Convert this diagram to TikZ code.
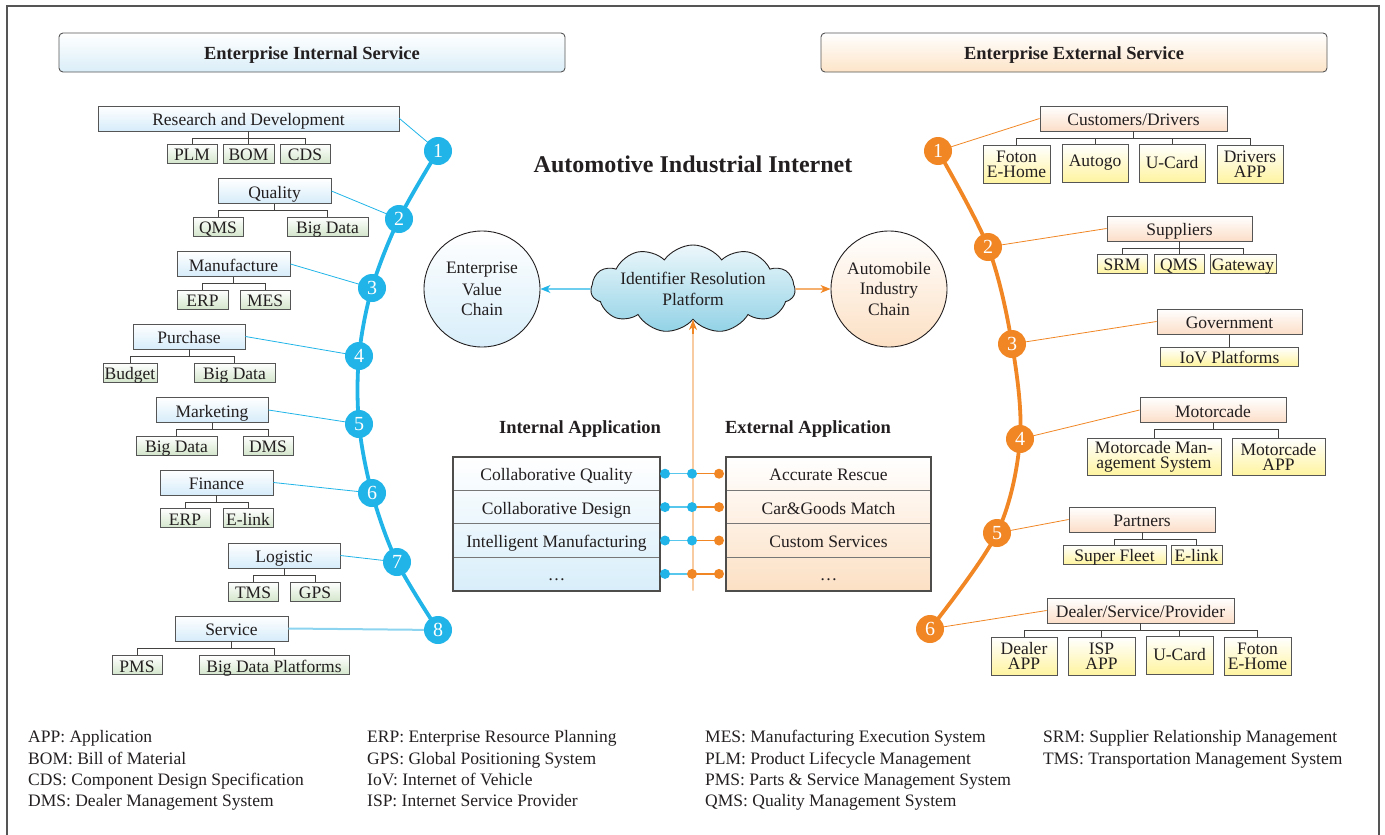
\documentclass[tikz,border=0pt]{standalone}
\usepackage{fontspec}
\setmainfont{Liberation Serif}
\usetikzlibrary{shapes.symbols,arrows.meta,calc}

\definecolor{ibl}{RGB}{32,180,232}
\definecolor{ilbl}{RGB}{140,212,240}
\definecolor{org}{RGB}{240,134,36}
\definecolor{lorg}{RGB}{245,175,110}
\definecolor{txt}{RGB}{35,31,32}
\definecolor{boxline}{RGB}{85,85,85}
\definecolor{lpb}{RGB}{214,236,250}
\definecolor{lcb}{RGB}{212,230,204}
\definecolor{rpb}{RGB}{252,222,200}
\definecolor{rcb}{RGB}{255,244,160}
\definecolor{hlb}{RGB}{218,238,248}
\definecolor{hrb}{RGB}{253,228,200}
\definecolor{cldt}{RGB}{236,247,251}
\definecolor{cldb}{RGB}{146,210,230}
\definecolor{tlb}{RGB}{216,238,250}
\definecolor{trb}{RGB}{252,224,196}

\newcommand\fsbody{\fontsize{17.5}{15}\selectfont}
\newcommand\fsnum{\fontsize{20}{20}\selectfont}
\newcommand\fshead{\fontsize{18.5}{20}\selectfont\bfseries}
\newcommand\fstitle{\fontsize{24}{26}\selectfont\bfseries}
\newcommand\fslegend{\fontsize{17.5}{20}\selectfont}

\tikzset{
  oneline/.style={text height=14pt, text depth=0pt},
  box/.style={draw=boxline, line width=0.9pt, inner sep=0pt, font=\fsbody, text=txt, align=center, oneline},
  lp/.style={box, top color=white, bottom color=lpb, minimum height=25},
  lc/.style={box, top color=white, bottom color=lcb, minimum height=19},
  rp/.style={box, top color=white, bottom color=rpb, minimum height=25},
  rc/.style={box, top color=white, bottom color=rcb, minimum height=19},
  rc2/.style={rc, minimum height=38, text height={}, text depth={}},
  br/.style={to path={(\tikztostart) -- ++(0,6.5) -| (\tikztotarget)}},
  brline/.style={draw=txt!85, line width=0.8pt},
  lnum/.style={circle, fill=ibl, minimum size=28, inner sep=0pt, text=white, font=\fsnum},
  rnum/.style={circle, fill=org, minimum size=28, inner sep=0pt, text=white, font=\fsnum},
  lcon/.style={ibl, line width=0.8pt},
  rcon/.style={org, line width=0.8pt},
  header/.style={draw=boxline, line width=0.9pt, rounded corners=4pt, minimum width=506, minimum height=39, font=\fshead, text=txt, oneline},
  cell/.style={draw=boxline!80, line width=0.9pt, minimum height=33.4, inner sep=0pt, font=\fsbody, text=txt, oneline},
  bdot/.style={circle, fill=ibl, minimum size=10, inner sep=0pt},
  odot/.style={circle, fill=org, minimum size=10, inner sep=0pt},
  legend/.style={anchor=base west, inner sep=0pt, font=\fslegend, text=txt},
  chain/.style={circle, draw=txt, line width=0.9pt, minimum size=116, inner sep=0pt, font=\fsbody, text=txt, align=center},
  tipa/.style={-{Stealth[length=10pt, width=8pt, inset=3pt]}},
}

\begin{document}
\begin{tikzpicture}[x=1pt,y=-1pt]
\useasboundingbox (0,0) rectangle (1385,835);
% outer frame, open below the picture edge
\draw[line width=1.2pt, draw=boxline] (7,900) -- (7,6) -- (1379,6) -- (1379,900);

% ---------- headers and title ----------
\node[header, top color=white, bottom color=hlb] (hint) at (312,52.5) {Enterprise Internal Service};
\node[header, top color=white, bottom color=hrb] (hext) at (1074,52.5) {Enterprise External Service};
\node[font=\fstitle, text=txt] (title) at (693,164) {Automotive Industrial Internet};

% ---------- internal service tree ----------
\node[lp, minimum width=301] (rd)   at (248.5,118.5) {Research and Development};
\node[lp, minimum width=113] (qual) at (274.5,191)   {Quality};
\node[lp, minimum width=113] (manu) at (233.5,264)   {Manufacture};
\node[lp, minimum width=112] (purc) at (189,336.5)   {Purchase};
\node[lp, minimum width=112] (mark) at (212,410)     {Marketing};
\node[lp, minimum width=113] (fina) at (216.5,482.5) {Finance};
\node[lp, minimum width=112] (logi) at (284,555.5)   {Logistic};
\node[lp, minimum width=113] (serv) at (231.5,628.5) {Service};

\node[lc, minimum width=50]  (plm)  at (192,153.5)   {PLM};
\node[lc, minimum width=51]  (bom)  at (248.5,153.5) {BOM};
\node[lc, minimum width=50]  (cds)  at (305,153.5)   {CDS};
\node[lc, minimum width=50]  (qms)  at (218,226.5)   {QMS};
\node[lc, minimum width=81]  (bigq) at (327.5,226.5) {Big Data};
\node[lc, minimum width=51]  (erpa) at (202.5,299.5) {ERP};
\node[lc, minimum width=50]  (mes)  at (265,299.5)   {MES};
\node[lc, minimum width=54]  (budg) at (130,372.5)   {Budget};
\node[lc, minimum width=81]  (bigp) at (234.5,372.5) {Big Data};
\node[lc, minimum width=81]  (bigm) at (176.5,445.5) {Big Data};
\node[lc, minimum width=50]  (dms)  at (268,445.5)   {DMS};
\node[lc, minimum width=50]  (erpb) at (185,518)     {ERP};
\node[lc, minimum width=50]  (elka) at (248,518)     {E-link};
\node[lc, minimum width=50]  (tms)  at (253,591.5)   {TMS};
\node[lc, minimum width=50]  (gps)  at (315,591.5)   {GPS};
\node[lc, minimum width=50]  (pms)  at (137,665)     {PMS};
\node[lc, minimum width=150] (bdp)  at (274,665)     {Big Data Platforms};

\foreach \p/\c in {rd/plm, rd/bom, rd/cds, qual/qms, qual/bigq, manu/erpa, manu/mes,
                   purc/budg, purc/bigp, mark/bigm, mark/dms, fina/erpb, fina/elka,
                   logi/tms, logi/gps, serv/pms, serv/bdp}
  \draw[brline] (\p.south) to[br] (\c.north);

% blue arc of internal services
\coordinate (p1) at (438,151);
\coordinate (p2) at (399,219);
\coordinate (p3) at (372,288);
\coordinate (p4) at (359,356);
\coordinate (p5) at (359,424);
\coordinate (p6) at (372,493);
\coordinate (p7) at (397,562);
\coordinate (p8) at (438,630);
\draw[ibl, line width=3.8pt] plot[smooth, tension=0.55] coordinates {(p1) (p2) (p3) (p4) (p5) (p6) (p7) (p8)};

\draw[lcon] (rd.east) -- (p1);
\draw[lcon] (qual.east) -- (p2);
\draw[lcon] (manu.east) -- (p3);
\draw[lcon] (purc.east) -- (p4);
\draw[lcon] (mark.east) -- (p5);
\draw[lcon] (fina.east) -- (p6);
\draw[lcon] (logi.east) -- (p7);
\draw[ilbl, line width=2pt] (serv.east) -- (p8);

\foreach \i in {1,...,8}
  \node[lnum] (lb\i) at (p\i) {\i};

% ---------- external service tree ----------
\node[rp, minimum width=187] (cust) at (1133.5,118.5) {Customers/Drivers};
\node[rp, minimum width=145] (supp) at (1179.5,228.5) {Suppliers};
\node[rp, minimum width=145] (gov)  at (1229.5,321.5) {Government};
\node[rp, minimum width=146] (moto) at (1213,410)     {Motorcade};
\node[rp, minimum width=146] (part) at (1142,519.5)   {Partners};
\node[rp, minimum width=187] (deal) at (1140.5,610.5) {Dealer/Service/Provider};

\node[rc2, minimum width=67]  (fea)   at (1016.5,164) {Foton\\E-Home};
\node[rc2, minimum width=66]  (autg)  at (1095,163)   {Autogo};
\node[rc2, minimum width=66]  (ucda)  at (1172,163)   {U-Card};
\node[rc2, minimum width=66]  (drva)  at (1250,164)   {Drivers\\APP};
\node[rc,  minimum width=50]  (srm)   at (1122,263.5) {SRM};
\node[rc,  minimum width=50]  (qmsb)  at (1179,263.5) {QMS};
\node[rc,  minimum width=66]  (gate)  at (1243,263.5) {Gateway};
\node[rc,  minimum width=138] (iov)   at (1229.5,356.5) {IoV Platforms};
\node[rc2, minimum width=134, minimum height=37] (mms)  at (1154,456.5) {Motorcade Man-\\agement System};
\node[rc2, minimum width=93,  minimum height=37] (mapp) at (1278.5,456.5) {Motorcade\\APP};
\node[rc,  minimum width=103] (sfl)   at (1114.5,554.5) {Super Fleet};
\node[rc,  minimum width=51]  (elkb)  at (1196.5,554.5) {E-link};
\node[rc2, minimum width=66]  (dlra)  at (1024,656)   {Dealer\\APP};
\node[rc2, minimum width=67]  (ispa)  at (1101.5,656) {ISP\\APP};
\node[rc2, minimum width=67]  (ucdb)  at (1179.5,655) {U-Card};
\node[rc2, minimum width=67]  (feb)   at (1257.5,656) {Foton\\E-Home};

\foreach \p/\c in {cust/fea, cust/autg, cust/ucda, cust/drva, supp/srm, supp/qmsb, supp/gate,
                   moto/mms, moto/mapp, part/sfl, part/elkb,
                   deal/dlra, deal/ispa, deal/ucdb, deal/feb}
  \draw[brline] (\p.south) to[br] (\c.north);
\draw[brline] (gov.south) -- (iov.north);

% orange arc of external services
\coordinate (q1) at (938,151);
\coordinate (q2) at (988,247);
\coordinate (q3) at (1012,344);
\coordinate (q4) at (1020,439);
\coordinate (q5) at (997,533);
\coordinate (q6) at (930,629);
\draw[org, line width=3.8pt] plot[smooth, tension=0.55] coordinates {(q1) (q2) (q3) (q4) (q5) (q6)};

\draw[rcon] (cust.west) -- (q1);
\draw[rcon] (supp.west) -- (q2);
\draw[rcon] (gov.west)  -- (q3);
\draw[rcon] (moto.west) -- (q4);
\draw[rcon] (part.west) -- (q5);
\draw[rcon] (deal.west) -- (q6);

\foreach \i in {1,...,6}
  \node[rnum] (rb\i) at (q\i) {\i};

% ---------- identifier resolution platform ----------
\node[chain, top color=white, bottom color=tlb] (evc) at (482,289) {Enterprise\\[5pt]Value\\[5pt]Chain};
\node[chain, top color=white, bottom color=trb] (aic) at (889,289) {Automobile\\[5pt]Industry\\[5pt]Chain};
\node[cloud, cloud puffs=11, cloud puff arc=110, cloud ignores aspect, draw=txt, line width=0.9pt,
      top color=cldt, bottom color=cldb, minimum width=200, minimum height=88, inner sep=0pt,
      font=\fsbody, text=txt, align=center] (irp) at (693,289) {Identifier Resolution\\[6pt]Platform};

\draw[ibl, line width=1.1pt, tipa] (irp.west) -- (evc.east);
\draw[org, line width=1.1pt, tipa] (irp.east) -- (aic.west);

% ---------- applications ----------
\node[font=\fshead, text=txt, oneline] (inapp) at (580,426) {Internal Application};
\node[font=\fshead, text=txt, oneline] (exapp) at (808,426) {External Application};

\node[minimum width=207, minimum height=133.6, inner sep=0pt, top color=white, bottom color=tlb] (itab) at (556.5,523.8) {};
\node[minimum width=205, minimum height=133.6, inner sep=0pt, top color=white, bottom color=trb] (etab) at (828.5,523.8) {};

\node[cell, minimum width=207] (ia1) at (556.5,473.7) {Collaborative Quality};
\node[cell, minimum width=207] (ia2) at (556.5,507.1) {Collaborative Design};
\node[cell, minimum width=207] (ia3) at (556.5,540.5) {Intelligent Manufacturing};
\node[cell, minimum width=207] (ia4) at (556.5,573.9) {\dots};
\node[cell, minimum width=205] (ea1) at (828.5,473.7) {Accurate Rescue};
\node[cell, minimum width=205] (ea2) at (828.5,507.1) {Car\&Goods Match};
\node[cell, minimum width=205] (ea3) at (828.5,540.5) {Custom Services};
\node[cell, minimum width=205] (ea4) at (828.5,573.9) {\dots};
\draw[txt!80, line width=1.6pt] (itab.north west) rectangle (itab.south east);
\draw[txt!80, line width=1.6pt] (etab.north west) rectangle (etab.south east);

% link from the application rows up to the platform
\coordinate (vb) at (693,590.6);
\draw[lorg, line width=1.3pt] (vb) -- (irp.south);
\draw[org, line width=1.3pt, tipa] ($(irp.south)+(0,14)$) -- (irp.south);

\foreach \i/\y in {1/473.7, 2/507.1, 3/540.5, 4/573.9} {
  \coordinate (da\i) at (665,\y);
  \coordinate (db\i) at (692,\y);
  \coordinate (dc\i) at (719,\y);
  \draw[ibl!75, line width=1.5pt] (da\i) -- (db\i);
  \draw[org, line width=1.5pt] (db\i) -- (dc\i);
}
\foreach \i in {1,2,3} {
  \node[bdot] (ma\i) at (da\i) {};
  \node[bdot] (mb\i) at (db\i) {};
  \node[odot] (mc\i) at (dc\i) {};
}
\node[bdot] (ma4) at (da4) {};
\node[odot] (mb4) at (db4) {};
\node[odot] (mc4) at (dc4) {};

% ---------- abbreviations ----------
\foreach \t [count=\i] in {APP: Application, BOM: Bill of Material, CDS: Component Design Specification, DMS: Dealer Management System}
  \node[legend] (lga\i) at (28,{721.5+21.3*\i}) {\t};
\foreach \t [count=\i] in {ERP: Enterprise Resource Planning, GPS: Global Positioning System, IoV: Internet of Vehicle, ISP: Internet Service Provider}
  \node[legend] (lgb\i) at (367,{721.5+21.3*\i}) {\t};
\foreach \t [count=\i] in {MES: Manufacturing Execution System, PLM: Product Lifecycle Management, PMS: Parts \& Service Management System, QMS: Quality Management System}
  \node[legend] (lgc\i) at (705,{721.5+21.3*\i}) {\t};
\foreach \t [count=\i] in {SRM: Supplier Relationship Management, TMS: Transportation Management System}
  \node[legend] (lgd\i) at (1043,{721.5+21.3*\i}) {\t};
\end{tikzpicture}
\end{document}
